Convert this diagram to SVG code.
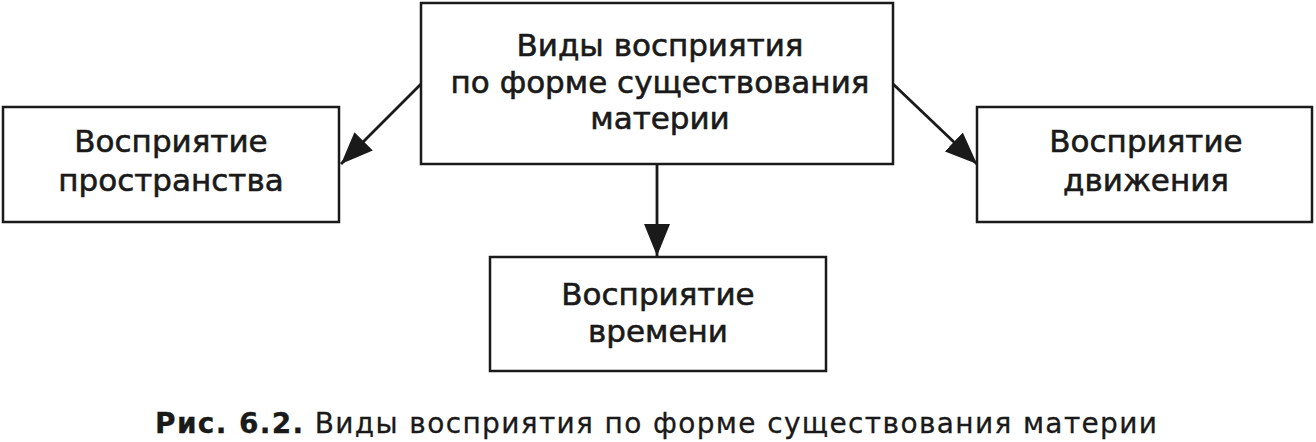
<svg xmlns="http://www.w3.org/2000/svg" width="1316" height="442" viewBox="0 0 1316 442">
<style>
.box{fill:#fff;stroke:#1a1a1a;stroke-width:2.5}
.t{font-family:"DejaVu Sans","Liberation Sans",sans-serif;font-size:31px;fill:#1a1a1a;stroke:#1a1a1a;stroke-width:0.6;text-anchor:middle}
.c{font-family:"DejaVu Sans","Liberation Sans",sans-serif;font-size:28px;fill:#1a1a1a;stroke:#1a1a1a;stroke-width:0.3}
.ln{stroke:#1a1a1a;stroke-width:2.8;fill:none}
</style>
<defs>
<marker id="ah" markerUnits="userSpaceOnUse" markerWidth="34" markerHeight="26" refX="32" refY="13" orient="auto">
<path d="M0,0 L32,13 L0,26 Z" fill="#1a1a1a"/>
</marker>
</defs>
<rect width="1316" height="442" fill="#fff"/>
<g id="connectors">
<line class="ln" x1="421" y1="84" x2="341" y2="164" marker-end="url(#ah)"/>
<line class="ln" x1="893" y1="84" x2="977" y2="164" marker-end="url(#ah)"/>
<line class="ln" x1="657" y1="164" x2="657" y2="256" marker-end="url(#ah)"/>
</g>
<g id="top">
<rect class="box" x="421" y="3" width="472" height="161"/>
<text class="t" x="660" y="56">Виды восприятия</text>
<text class="t" x="660" y="93">по форме существования</text>
<text class="t" x="660" y="129">материи</text>
</g>
<g id="space">
<rect class="box" x="3" y="107" width="336" height="115"/>
<text class="t" x="171" y="152">Восприятие</text>
<text class="t" x="171" y="191">пространства</text>
</g>
<g id="motion">
<rect class="box" x="977" y="107" width="335" height="115"/>
<text class="t" x="1146" y="152">Восприятие</text>
<text class="t" x="1146" y="191">движения</text>
</g>
<g id="time">
<rect class="box" x="490" y="257" width="336" height="114"/>
<text class="t" x="658" y="305">Восприятие</text>
<text class="t" x="658" y="342">времени</text>
</g>
<text class="c" x="155" y="433" textLength="1002" lengthAdjust="spacing"><tspan font-weight="bold">Рис. 6.2.</tspan> Виды восприятия по форме существования материи</text>
</svg>
